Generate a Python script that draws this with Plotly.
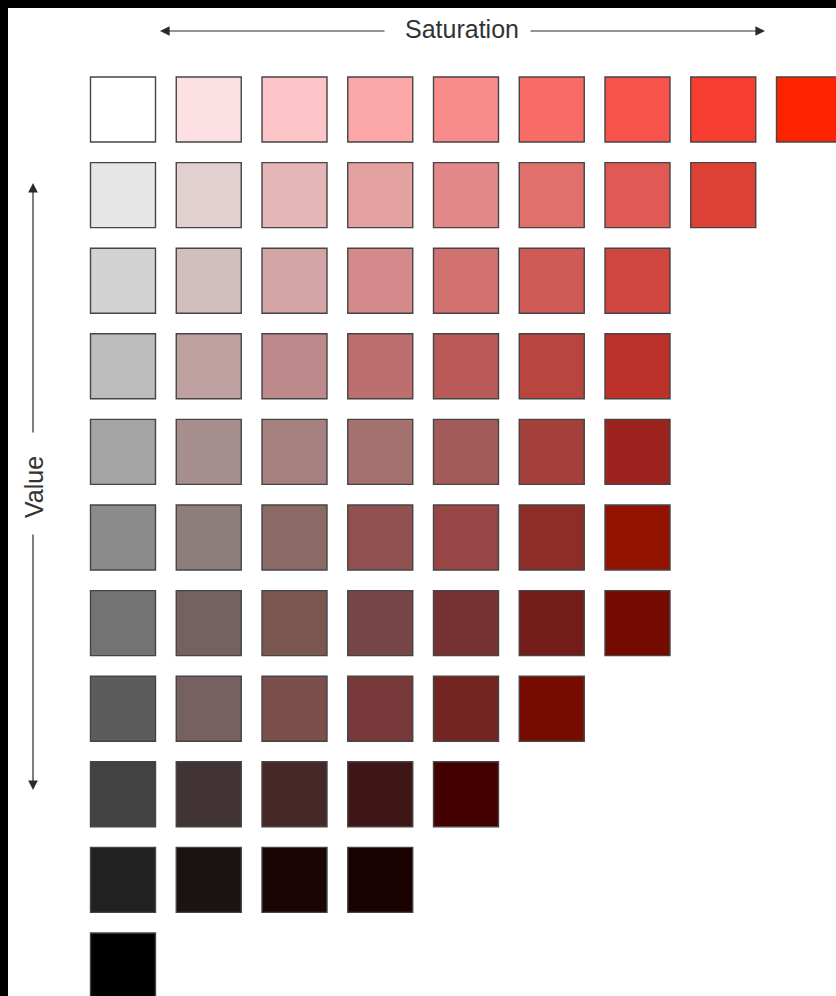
import plotly.graph_objects as go

# ---------------- data ----------------
# Munsell-style value (rows, top = lightest) x saturation (columns) chart for red hue
value_levels = [10, 9, 8, 7, 6, 5, 4, 3, 2, 1, 0]

row_v10 = ["#ffffff", "#fde0e3", "#fdc5c8", "#fba6a7", "#fa8b8b", "#f96b67", "#f8524d", "#f63d30", "#fe2300"]
row_v9 = ["#e6e6e6", "#e2d0d0", "#e5b6b6", "#e3a2a0", "#e38888", "#e16f6b", "#e05955", "#dd4034"]
row_v8 = ["#d3d3d3", "#d3bebe", "#d4a5a6", "#d48a8a", "#d27270", "#d05a55", "#cf4640"]
row_v7 = ["#bdbdbd", "#bfa1a2", "#bd898a", "#bd6f70", "#b95a59", "#b8453e", "#bc3129"]
row_v6 = ["#a4a4a4", "#a58e8d", "#a5817f", "#a4716e", "#a35b59", "#a3403b", "#9d231f"]
row_v5 = ["#8b8b8b", "#8e7d7d", "#8b6a66", "#915150", "#984545", "#8d2c28", "#931300"]
row_v4 = ["#737373", "#756160", "#795750", "#774747", "#763232", "#731d1a", "#750b00"]
row_v3 = ["#5c5c5c", "#766060", "#7b4f4c", "#763839", "#742521", "#790c00"]
row_v2 = ["#424242", "#423434", "#472828", "#3f1516", "#430000"]
row_v1 = ["#212121", "#1b1212", "#1a0404", "#1b0202"]
row_v0 = ["#000000"]

rows = [row_v10, row_v9, row_v8, row_v7, row_v6, row_v5, row_v4, row_v3, row_v2, row_v1, row_v0]

x_label = "Saturation"
y_label = "Value"

# ---------------- build ----------------
xs, ys, cs = [], [], []
for v, colors in zip(value_levels, rows):
    for sat, col in enumerate(colors):
        xs.append(sat)
        ys.append(v)
        cs.append(col)

W, H = 836, 996

fig = go.Figure()
fig.add_trace(go.Scatter(
    x=xs, y=ys, mode="markers",
    marker=dict(symbol="square", size=65, color=cs,
                line=dict(color="#454545", width=1.4)),
    hoverinfo="skip", showlegend=False,
))

def px(x):
    return x / W

def py(y):
    return 1 - y / H

arrow_col = "#2a2a2a"
annos = [
    dict(x=px(160), y=py(31), ax=226, ay=0),
    dict(x=px(765), y=py(31), ax=-236, ay=0),
    dict(x=px(33), y=py(183), ax=0, ay=251),
    dict(x=px(33), y=py(790), ax=0, ay=-257),
]
annotations = []
for a in annos:
    annotations.append(dict(
        xref="paper", yref="paper", text="", showarrow=True,
        arrowhead=2, arrowsize=1.6, arrowwidth=1.2, arrowcolor=arrow_col,
        standoff=0, startstandoff=0, **a))

font = dict(family="Liberation Sans, Arial", size=25, color="#333333")
annotations.append(dict(xref="paper", yref="paper", x=px(462), y=py(29),
                        text=x_label, showarrow=False, font=font,
                        xanchor="center", yanchor="middle"))
annotations.append(dict(xref="paper", yref="paper", x=px(34), y=py(487),
                        text=y_label, showarrow=False, textangle=-90, font=font,
                        xanchor="center", yanchor="middle"))

# black frame strips along the top and left edges
shapes = [
    dict(type="rect", xref="paper", yref="paper", x0=0, x1=1, y0=py(8), y1=1,
         fillcolor="black", line=dict(width=0), layer="above"),
    dict(type="rect", xref="paper", yref="paper", x0=0, x1=px(8), y0=0, y1=1,
         fillcolor="black", line=dict(width=0), layer="above"),
]

col_pitch = 85.75
col0 = 123.0
row_pitch = 85.6
row0 = 109.5
fig.update_layout(
    width=W, height=H,
    margin=dict(l=0, r=0, t=0, b=0),
    paper_bgcolor="white", plot_bgcolor="white",
    xaxis=dict(range=[-col0 / col_pitch, (W - col0) / col_pitch], visible=False, domain=[0, 1]),
    yaxis=dict(range=[10 - (H - row0) / row_pitch, 10 + row0 / row_pitch], visible=False, domain=[0, 1]),
    annotations=annotations,
    shapes=shapes,
)

fig.write_html("out.html", config={"displayModeBar": False},
               post_script="document.body.style.margin='0';")
